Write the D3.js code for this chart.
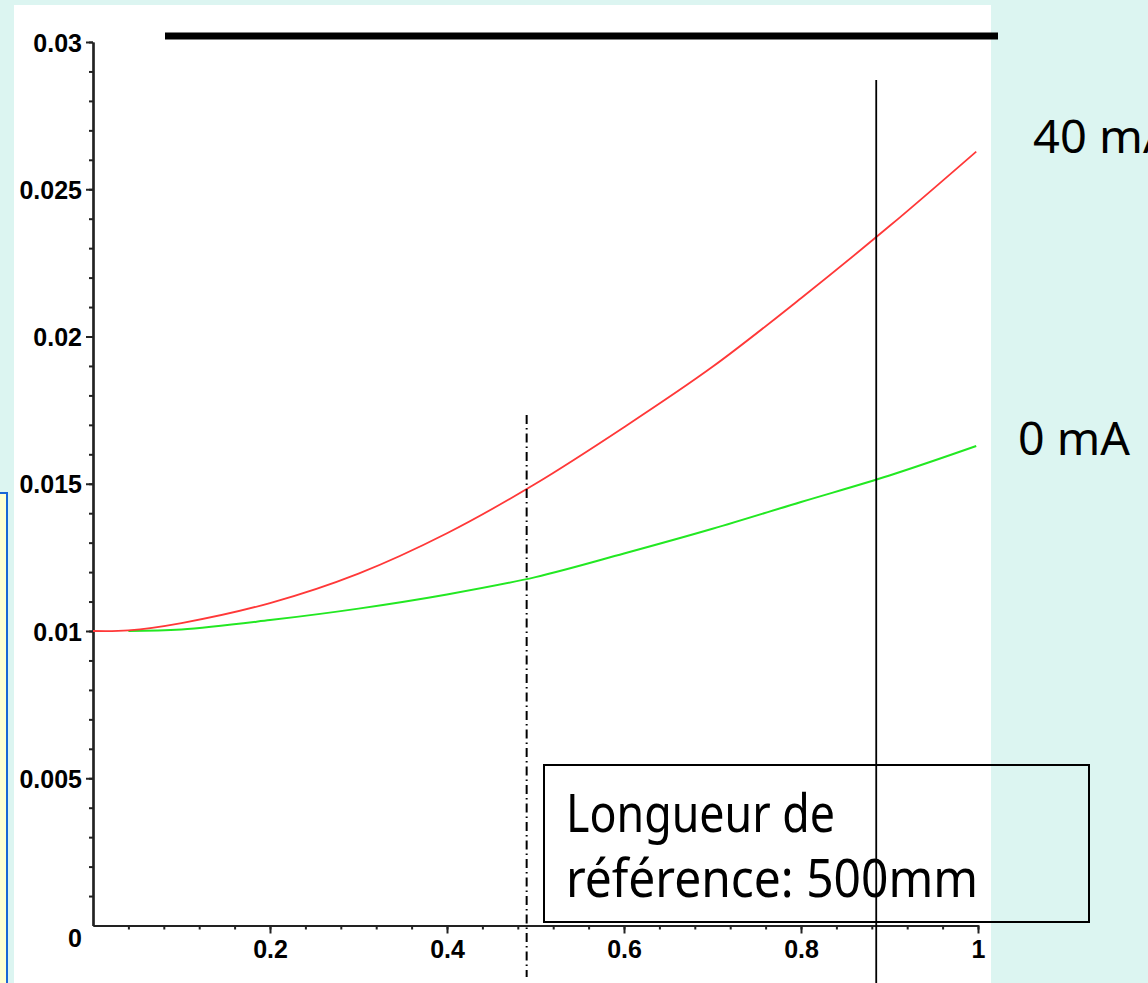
<!DOCTYPE html>
<html>
<head>
<meta charset="utf-8">
<script src="https://cdn.jsdelivr.net/npm/d3@7"></script>
<style>
  html, body { margin: 0; padding: 0; background: #dcf5f1; overflow: hidden; }
  svg { display: block; }
</style>
</head>
<body>
<script>
// ---- data ----
const redX = [0, 0.04, 0.1, 0.2, 0.3, 0.4, 0.5, 0.6, 0.7, 0.8, 0.9, 0.998];
const red40mA = [0.0100, 0.01002, 0.01027, 0.01095, 0.01195, 0.01332, 0.01500, 0.01692, 0.01897, 0.02130, 0.02375, 0.02628];
const greenX = [0.04, 0.1, 0.2, 0.3, 0.4, 0.5, 0.6, 0.7, 0.8, 0.9, 0.998];
const green0mA = [0.0100, 0.01005, 0.01037, 0.01076, 0.01124, 0.01183, 0.01263, 0.01347, 0.01438, 0.01528, 0.01628];
const yMajorTicks = [0.005, 0.01, 0.015, 0.02, 0.025, 0.03];
const yTickLabels = ["0.005", "0.01", "0.015", "0.02", "0.025", "0.03"];
const xMajorTicks = [0.2, 0.4, 0.6, 0.8, 1];
const xTickLabels = ["0.2", "0.4", "0.6", "0.8", "1"];
const seriesLabels = ["40 mA", "0 mA"];
const boxLines = ["Longueur de", "référence: 500mm"];
const markerSolidX = 0.885;
const markerDashX = 0.49;

const W = 1148, H = 983;
const svg = d3.select("body").append("svg").attr("width", W).attr("height", H);

// background pieces
svg.append("rect").attr("x", 0).attr("y", 0).attr("width", W).attr("height", H).attr("fill", "#dcf5f1");
svg.append("rect").attr("x", -5).attr("y", 493).attr("width", 12).attr("height", 500)
  .attr("fill", "#ffffd2").attr("stroke", "#1a66d6").attr("stroke-width", 2);
svg.append("rect").attr("x", 14).attr("y", 5).attr("width", 977).attr("height", 990).attr("fill", "#ffffff");

const x = d3.scaleLinear().domain([0, 1]).range([93, 978]);
const y = d3.scaleLinear().domain([0, 0.03]).range([925.5, 42]);

// top thick bar
svg.append("line").attr("x1", 165).attr("x2", 998).attr("y1", 36).attr("y2", 36)
  .attr("stroke", "#000").attr("stroke-width", 7);

// axes
const axisColor = "#222";
const yMinor = d3.range(0, 0.03001, 0.001).filter(v => v > 0.0001);
const xMinor = d3.range(0, 1.0001, 0.04).filter(v => v > 0.001);

const gyMinor = svg.append("g").attr("transform", `translate(${x(0)},0)`)
  .call(d3.axisLeft(y).tickValues(yMinor).tickSize(4).tickSizeOuter(0).tickFormat(""));
const gy = svg.append("g").attr("transform", `translate(${x(0)},0)`)
  .call(d3.axisLeft(y).tickValues(yMajorTicks).tickSize(7).tickSizeOuter(0).tickPadding(4)
    .tickFormat((d, i) => yTickLabels[i]));
const gxMinor = svg.append("g").attr("transform", `translate(0,${y(0)})`)
  .call(d3.axisBottom(x).tickValues(xMinor).tickSize(4).tickSizeOuter(0).tickFormat(""));
const gx = svg.append("g").attr("transform", `translate(0,${y(0)})`)
  .call(d3.axisBottom(x).tickValues(xMajorTicks).tickSize(8).tickSizeOuter(0).tickPadding(6)
    .tickFormat((d, i) => xTickLabels[i]));

[gyMinor, gy, gxMinor, gx].forEach(g => {
  g.selectAll("path.domain").attr("stroke", axisColor).attr("stroke-width", 2.2);
  g.selectAll(".tick line").attr("stroke", axisColor).attr("stroke-width", 2);
  g.selectAll("text").attr("fill", "#000")
    .style("font-family", "'Liberation Sans', Arial, sans-serif")
    .style("font-weight", "bold").style("font-size", "25px");
});
gy.selectAll("text").attr("dy", "0.36em");
gx.selectAll("text").attr("dy", "0.72em");

// origin label
svg.append("text").attr("x", 82).attr("y", 947).attr("text-anchor", "end")
  .style("font-family", "'Liberation Sans', Arial, sans-serif").style("font-weight", "bold")
  .style("font-size", "25px").text("0");

// curves
const line = d3.line().x(d => x(d[0])).y(d => y(d[1])).curve(d3.curveCatmullRom.alpha(0.5));
svg.append("path").datum(greenX.map((v, i) => [v, green0mA[i]]))
  .attr("d", line).attr("fill", "none").attr("stroke", "#22e822").attr("stroke-width", 2);
svg.append("path").datum(redX.map((v, i) => [v, red40mA[i]]))
  .attr("d", line).attr("fill", "none").attr("stroke", "#ff3838").attr("stroke-width", 1.8);

// text box
const annFont = "'Comic Sans MS', 'Noto Sans', 'Open Sans', sans-serif";
svg.append("rect").attr("x", 544).attr("y", 765).attr("width", 545).attr("height", 157)
  .attr("fill", "none").attr("stroke", "#000").attr("stroke-width", 2);
svg.append("text").attr("x", 566).attr("y", 832).style("font-family", annFont).style("font-size", "52px")
  .attr("textLength", 269).attr("lengthAdjust", "spacingAndGlyphs").text(boxLines[0]);
svg.append("text").attr("x", 566).attr("y", 897).style("font-family", annFont).style("font-size", "52px")
  .attr("textLength", 412).attr("lengthAdjust", "spacingAndGlyphs").text(boxLines[1]);

// vertical markers
svg.append("line").attr("x1", x(markerSolidX)).attr("x2", x(markerSolidX)).attr("y1", 80).attr("y2", 983)
  .attr("stroke", "#000").attr("stroke-width", 1.8);
svg.append("line").attr("x1", x(markerDashX)).attr("x2", x(markerDashX)).attr("y1", 415).attr("y2", 977)
  .attr("stroke", "#000").attr("stroke-width", 2).attr("stroke-dasharray", "9,4,1.5,4");

// series labels (the first one runs off the right edge, as in the reference)
svg.append("text").attr("x", 1033).attr("y", 153).style("font-family", annFont).style("font-size", "46px")
  .attr("textLength", 140).attr("lengthAdjust", "spacingAndGlyphs").text(seriesLabels[0]);
svg.append("text").attr("x", 1018).attr("y", 455).style("font-family", annFont).style("font-size", "46px")
  .attr("textLength", 112).attr("lengthAdjust", "spacingAndGlyphs").text(seriesLabels[1]);
</script>
</body>
</html>
